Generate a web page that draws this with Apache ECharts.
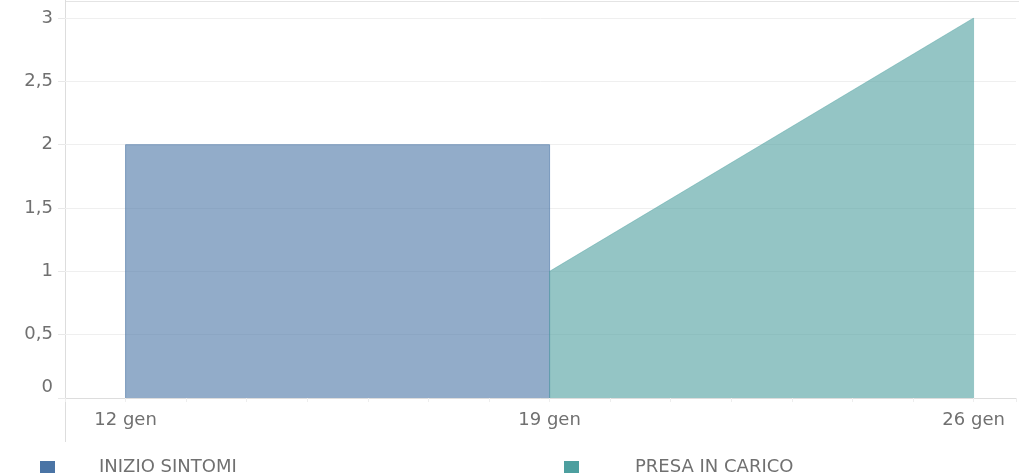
<!DOCTYPE html>
<html>
<head>
<meta charset="utf-8">
<script src="https://cdn.jsdelivr.net/npm/echarts@6/dist/echarts.min.js"></script>
<style>
html,body{margin:0;padding:0;background:#fff;}
#c{width:1019px;height:474px;}
</style>
</head>
<body>
<div id="c"></div>
<script>
// Data
const seriesNames = ['INIZIO SINTOMI', 'PRESA IN CARICO'];
// [day of January, value] — outline of each area
const inizioSintomi = [[12, 0], [12, 2], [19, 2], [19, 0]];
const presaInCarico = [[19, 0], [19, 1], [26, 3], [26, 0]];
const xTickDays = [12, 19, 26];
const xTickLabels = ['12 gen', '19 gen', '26 gen'];
const yTicks = [0, 0.5, 1, 1.5, 2, 2.5, 3];

const blue = '#4a74a5';
const teal = '#4d9f9f';
const txt = '#707070';
const font = '"DejaVu Sans", sans-serif';
const fs = 18;

const chart = echarts.init(document.getElementById('c'), null, {renderer: 'canvas'});
chart.setOption({
  animation: false,
  backgroundColor: '#ffffff',
  grid: {left: 65, right: 0, top: 18, bottom: 76, containLabel: false},
  xAxis: {
    type: 'value', min: 11, max: 26.7, interval: 1,
    axisLine: {show: true, lineStyle: {color: '#dddddd', width: 1}},
    axisTick: {show: true, length: 4, lineStyle: {color: '#eeeeee'}},
    splitLine: {show: false},
    axisLabel: {
      interval: 0, margin: 13, color: txt, fontSize: fs, fontFamily: font,
      formatter: v => { const i = xTickDays.indexOf(v); return i >= 0 ? xTickLabels[i] : ''; }
    }
  },
  yAxis: {
    type: 'value', min: 0, max: 3, interval: 0.5,
    axisLine: {show: false},
    axisTick: {show: true, length: 7, lineStyle: {color: '#e8e8e8'}},
    splitLine: {show: true, lineStyle: {color: '#efefef', width: 1}},
    axisLabel: {
      margin: 12, color: txt, fontSize: fs, fontFamily: font,
      formatter: v => yTicks.indexOf(v) === 0 ? '{z|0}' : String(v).replace('.', ','),
      rich: {z: {color: txt, fontSize: fs, fontFamily: font, padding: [0, 0, 22, 0]}}
    }
  },
  legend: [
    {data: [seriesNames[0]], left: 40, top: 458, padding: 0, icon: 'rect', itemWidth: 15, itemHeight: 12,
     textStyle: {color: txt, fontSize: fs, fontFamily: font, padding: [0, 0, 0, 39]}},
    {data: [seriesNames[1]], left: 564, top: 458, padding: 0, icon: 'rect', itemWidth: 15, itemHeight: 12,
     textStyle: {color: txt, fontSize: fs, fontFamily: font, padding: [0, 0, 0, 51]}}
  ],
  graphic: [
    {type: 'line', shape: {x1: 65, y1: 1.5, x2: 1019, y2: 1.5}, style: {stroke: '#e4e4e4', lineWidth: 1}, silent: true, z: 0},
    {type: 'line', shape: {x1: 65.5, y1: 0, x2: 65.5, y2: 442}, style: {stroke: '#dddddd', lineWidth: 1}, silent: true, z: 0}
  ],
  series: [
    {name: seriesNames[0], type: 'line', data: inizioSintomi, symbol: 'none', color: blue,
     lineStyle: {color: blue, width: 1, opacity: 0.6},
     areaStyle: {color: blue, opacity: 0.6}, z: 2},
    {name: seriesNames[1], type: 'line', data: presaInCarico, symbol: 'none', color: teal,
     lineStyle: {color: teal, width: 1, opacity: 0.4},
     areaStyle: {color: teal, opacity: 0.6}, z: 3}
  ]
});
</script>
</body>
</html>
